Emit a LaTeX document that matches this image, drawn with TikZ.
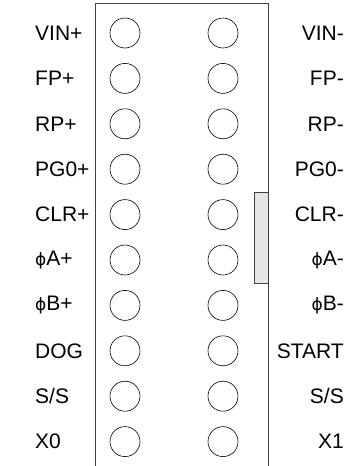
\documentclass[tikz,border=0pt]{standalone}
\usepackage{fontspec}
\setmainfont{Liberation Sans}
\newfontfamily\phifont{DejaVu Sans}
\usetikzlibrary{positioning}
\definecolor{tabgray}{HTML}{E6E6E6}
\newcommand{\ph}{{\phifont\fontsize{17}{17}\selectfont ϕ}}
\tikzset{
  pin/.style={draw, circle, minimum size=30pt, inner sep=0pt, line width=0.6pt},
  lbl/.style={font=\fontsize{21}{21}\selectfont, inner sep=0pt},
  housing/.style={draw=black!75, line width=1pt}
}

\begin{document}
\begin{tikzpicture}[x=1pt, y=-1pt]
	\useasboundingbox (0,0) rectangle (350,466);
	% housing, open at the bottom
	\draw[housing, fill=tabgray] (254,192) rectangle (268,283);
	\draw[housing] (95,466) -- (95,3) -- (268,3) -- (268,466);
	% pins and labels
	\foreach \l/\r [count=\i] in {VIN+/VIN-, FP+/FP-, RP+/RP-, PG0+/PG0-, CLR+/CLR-,
		\ph A+/\ph A-, \ph B+/\ph B-, DOG/START, {S/S}/{S/S}, X0/X1} {
		\node[pin] (pinL\i) at (125,{33+45.4*(\i-1)}) {};
		\node[pin] (pinR\i) at (223,{33+45.4*(\i-1)}) {};
		\node[lbl, anchor=west] (labL\i) at (35,{33+45.4*(\i-1)}) {\l};
		\node[lbl, anchor=east] (labR\i) at (344,{33+45.4*(\i-1)}) {\r};
	}
\end{tikzpicture}
\end{document}
